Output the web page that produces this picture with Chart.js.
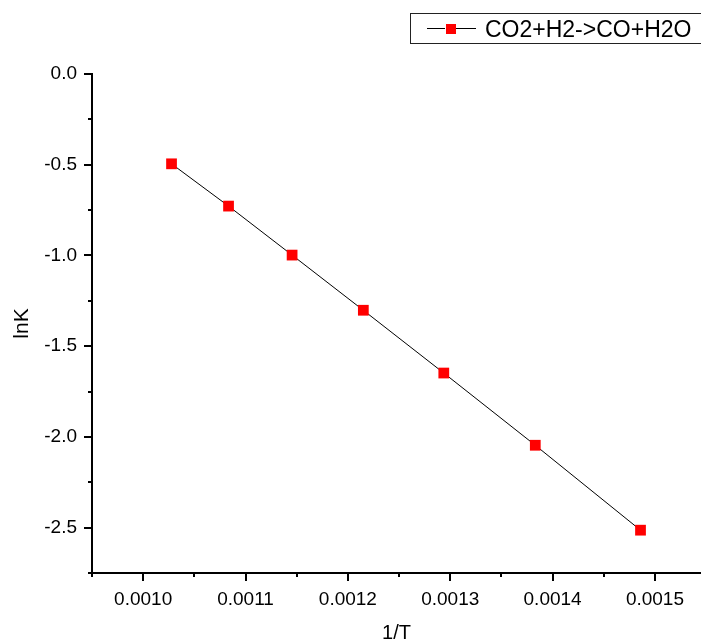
<!DOCTYPE html>
<html>
<head>
<meta charset="utf-8">
<script src="https://cdn.jsdelivr.net/npm/chart.js@4/dist/chart.umd.min.js"></script>
<style>
  html, body { margin: 0; padding: 0; background: #fff; }
  #wrap { width: 701px; height: 641px; }
</style>
</head>
<body>
<div id="wrap"><canvas id="c" width="701" height="641"></canvas></div>
<script>
// ---- data ----
const seriesLabel = 'CO2+H2->CO+H2O';
const invT = [0.0010277, 0.0010834, 0.0011455, 0.0012151, 0.0012937, 0.0013831, 0.0014859];
const lnK  = [-0.495, -0.728, -0.998, -1.302, -1.648, -2.046, -2.514];

// ---- ticks ----
const xMajorTicks = [0.0010, 0.0011, 0.0012, 0.0013, 0.0014, 0.0015];
const xMinorTicks = [0.00095, 0.00105, 0.00115, 0.00125, 0.00135, 0.00145];
const yMajorTicks = [0.0, -0.5, -1.0, -1.5, -2.0, -2.5];
const yMinorTicks = [-0.25, -0.75, -1.25, -1.75, -2.25, -2.75];

const xMin = 0.00095, xMax = 0.001545;
const yMin = -2.75, yMax = 0.0;

function buildTicks(major, minor) {
  const t = major.map(v => ({ value: v, isMajor: true }))
    .concat(minor.map(v => ({ value: v, isMajor: false })));
  t.sort((a, b) => a.value - b.value);
  return t;
}

const FONT = "'Liberation Sans', Arial, sans-serif";

const tickPlugin = {
  id: 'originTicks',
  afterDraw(chart) {
    const ctx = chart.ctx;
    const xs = chart.scales.x, ys = chart.scales.y;
    const ca = chart.chartArea;
    ctx.save();
    ctx.strokeStyle = '#000';
    ctx.lineWidth = 2;
    ctx.beginPath();
    xs.ticks.forEach(t => {
      const px = Math.round(xs.getPixelForValue(t.value));
      const len = t.isMajor ? 8 : 4;
      ctx.moveTo(px, ca.bottom);
      ctx.lineTo(px, ca.bottom + len);
    });
    ys.ticks.forEach(t => {
      const py = Math.round(ys.getPixelForValue(t.value));
      const len = t.isMajor ? 8 : 4;
      ctx.moveTo(ca.left, py);
      ctx.lineTo(ca.left - len, py);
    });
    ctx.stroke();
    ctx.restore();
  }
};

const legendPlugin = {
  id: 'originLegend',
  afterDraw(chart) {
    const ctx = chart.ctx;
    const ds = chart.data.datasets[0];
    ctx.save();
    ctx.strokeStyle = '#222';
    ctx.lineWidth = 1;
    ctx.strokeRect(410.5, 13.5, 320, 30);
    ctx.strokeStyle = '#000';
    ctx.beginPath();
    ctx.moveTo(427, 28.5); ctx.lineTo(445, 28.5);
    ctx.moveTo(456, 28.5); ctx.lineTo(476, 28.5);
    ctx.stroke();
    ctx.fillStyle = ds.pointBackgroundColor;
    ctx.fillRect(446, 24, 10, 10);
    ctx.fillStyle = '#000';
    ctx.font = '23px ' + FONT;
    ctx.textBaseline = 'alphabetic';
    ctx.textAlign = 'left';
    ctx.fillText(ds.label, 485, 37);
    ctx.restore();
  }
};

new Chart(document.getElementById('c'), {
  type: 'line',
  data: {
    datasets: [{
      label: seriesLabel,
      data: invT.map((x, i) => ({ x: x, y: lnK[i] })),
      borderColor: '#000',
      borderWidth: 1,
      pointStyle: 'rect',
      pointRadius: 7.6,
      pointHoverRadius: 7.6,
      pointBackgroundColor: '#ff0000',
      pointBorderColor: '#ff0000',
      pointBorderWidth: 0,
      tension: 0,
      fill: false
    }]
  },
  options: {
    responsive: false,
    animation: false,
    devicePixelRatio: 1,
    layout: { autoPadding: false, padding: { top: 74, left: 6, right: 0, bottom: 0 } },
    plugins: {
      legend: { display: false },
      tooltip: { enabled: false }
    },
    scales: {
      x: {
        type: 'linear',
        min: xMin, max: xMax,
        afterBuildTicks: s => { s.ticks = buildTicks(xMajorTicks, xMinorTicks); },
        afterFit: s => { s.height = 68; s.paddingLeft = 0; s.paddingRight = 0; },
        grid: { display: false, drawTicks: false },
        border: { display: true, color: '#000', width: 2 },
        ticks: {
          padding: 15,
          autoSkip: false,
          maxRotation: 0,
          color: '#000',
          font: { family: FONT, size: 19 },
          callback: (v, i, ticks) => ticks[i].isMajor ? v.toFixed(4) : ''
        },
        title: {
          display: true, text: '1/T', color: '#000',
          font: { family: FONT, size: 20, lineHeight: 1 },
          padding: { top: 0, bottom: -2 }
        }
      },
      y: {
        type: 'linear',
        min: yMin, max: yMax,
        afterBuildTicks: s => { s.ticks = buildTicks(yMajorTicks, yMinorTicks); },
        afterFit: s => { s.width = 86; s.paddingTop = 0; s.paddingBottom = 0; },
        grid: { display: false, drawTicks: false },
        border: { display: true, color: '#000', width: 2 },
        ticks: {
          padding: 15,
          autoSkip: false,
          color: '#000',
          font: { family: FONT, size: 19 },
          callback: (v, i, ticks) => ticks[i].isMajor ? v.toFixed(1) : ''
        },
        title: {
          display: true, text: 'lnK', color: '#000',
          font: { family: FONT, size: 21 },
          padding: { top: 4, bottom: 4 }
        }
      }
    }
  },
  plugins: [tickPlugin, legendPlugin]
});
</script>
</body>
</html>
